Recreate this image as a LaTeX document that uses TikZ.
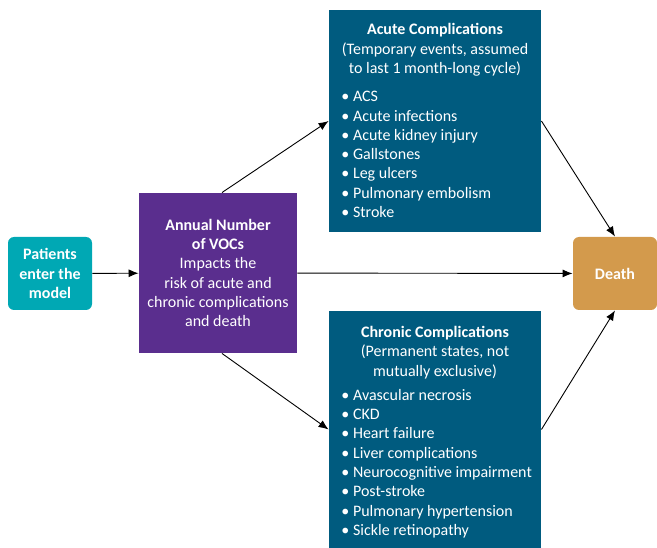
\documentclass[tikz,border=0pt]{standalone}
\usepackage{fontspec}
\setmainfont{Carlito}
\usetikzlibrary{arrows.meta}

\definecolor{entryteal}{HTML}{00A8B4}
\definecolor{vocpurple}{HTML}{5A2E8E}
\definecolor{compblue}{HTML}{005B7F}
\definecolor{deathgold}{HTML}{D39A4C}
\newcommand{\boxfont}{\fontsize{16}{19.3}\selectfont}

\tikzstyle{endbox} = [rounded corners=6pt,minimum width=84pt,minimum height=73pt,inner sep=0pt,text=white,align=center,font=\boxfont\bfseries]
\tikzstyle{vocbox} = [fill=vocpurple,minimum width=158pt,minimum height=160pt,inner sep=0pt,text=white,align=center,font=\boxfont]
\tikzstyle{compbox} = [fill=compblue,minimum width=212pt,inner sep=0pt]
\tikzstyle{headtext} = [text=white,align=center,inner sep=0pt,font=\boxfont]
\tikzstyle{listtext} = [text=white,align=left,inner sep=0pt,anchor=west,font=\boxfont]

\begin{document}
\begin{tikzpicture}[x=1pt,y=-1pt,>={Latex[length=10pt,width=8pt]},line width=0.9pt]
		\useasboundingbox (0,0) rectangle (657,548);
		\node[endbox,fill=entryteal] (entry) at (50,273.5) {Patients\\enter the\\model};
		\node[vocbox] (voc) at (218,273) {\textbf{Annual Number}\\\textbf{of VOCs}\\Impacts the\\risk of acute and\\chronic complications\\and death};
		\node[compbox,minimum height=222pt] (acute) at (435,121) {};
		\node[compbox,minimum height=237pt] (chronic) at (435,429.5) {};
		\node[endbox,fill=deathgold] (death) at (615,273.5) {Death};
		
		\node[headtext] (acutehead) at (435,50) {\textbf{Acute Complications}\\(Temporary events, assumed\\to last 1 month-long cycle)};
		\node[listtext] (acutelist) at (341,154.5) {• ACS\\• Acute infections\\• Acute kidney injury\\• Gallstones\\• Leg ulcers\\• Pulmonary embolism\\• Stroke};
		\node[headtext] (chronichead) at (435,352.5) {\textbf{Chronic Complications}\\(Permanent states, not\\mutually exclusive)};
		\node[listtext] (chroniclist) at (341,463.5) {• Avascular necrosis\\• CKD\\• Heart failure\\• Liver complications\\• Neurocognitive impairment\\• Post-stroke\\• Pulmonary hypertension\\• Sickle retinopathy};
		
		\draw[->] (entry) -- (voc);
		\draw[->] (voc) -- (death);
		\draw[->] ([xshift=4pt]voc.north) -- (acute.west);
		\draw[->] ([xshift=4pt]voc.south) -- (chronic.west);
		\draw[->] (acute.east) -- (death.north);
		\draw[->] (chronic.east) -- (death.south);
\end{tikzpicture}
\end{document}
